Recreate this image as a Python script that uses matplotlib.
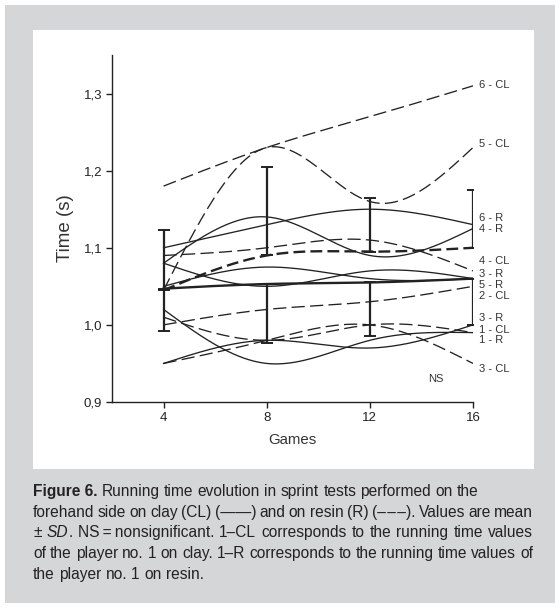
import numpy as np
import matplotlib
matplotlib.use("Agg")
import matplotlib.pyplot as plt
from matplotlib.patches import Rectangle

plt.rcParams['font.family'] = ['Liberation Sans', 'DejaVu Sans']

# ---------------- data ----------------
games = [4, 8, 12, 16]

cl_1 = [1.01, 0.98, 1.00, 0.99]
cl_2 = [1.00, 1.02, 1.03, 1.05]
cl_3 = [0.95, 0.98, 1.00, 0.95]
cl_4 = [1.09, 1.10, 1.11, 1.07]
cl_5 = [1.045, 1.23, 1.16, 1.23]
cl_6 = [1.18, 1.23, 1.27, 1.31]

r_1 = [1.02, 0.95, 0.98, 0.99]
r_2 = [0.95, 0.98, 0.97, 1.00]
r_3 = [1.05, 1.075, 1.06, 1.06]
r_4 = [1.08, 1.14, 1.09, 1.125]
r_5 = [1.08, 1.05, 1.07, 1.06]
r_6 = [1.10, 1.13, 1.15, 1.13]

cl_mean = [1.045, 1.09, 1.095, 1.10]
cl_sd = [0.078, 0.115, 0.070, 0.075]
r_mean = [1.047, 1.053, 1.055, 1.06]
r_sd = [0.055, 0.076, 0.070, 0.060]

right_labels = ['6 - CL', '5 - CL', '6 - R', '4 - R', '4 - CL', '3 - R',
                '5 - R', '2 - CL', '3 - R', '1 - CL', '1 - R', '3 - CL']
right_label_y = [1.311, 1.235, 1.139, 1.125, 1.083, 1.066,
                 1.052, 1.038, 1.009, 0.994, 0.980, 0.943]

yticks = [0.9, 1.0, 1.1, 1.2, 1.3]
ytick_labels = ['0,9', '1,0', '1,1', '1,2', '1,3']
xticks = [4, 8, 12, 16]

caption_lines = [
    [("Figure 6.", 'bold'), ("Running", 'n'), ("time", 'n'), ("evolution", 'n'), ("in", 'n'),
     ("sprint", 'n'), ("tests", 'n'), ("performed", 'n'), ("on", 'n'), ("the", 'n')],
    [("forehand", 'n'), ("side", 'n'), ("on", 'n'), ("clay", 'n'), ("(CL)", 'n'), ("(\u2014\u2014)", 'n'),
     ("and", 'n'), ("on", 'n'), ("resin", 'n'), ("(R)", 'n'), ("(\u2013\u200a\u2013\u200a\u2013).", 'n'),
     ("Values", 'n'), ("are", 'n'), ("mean", 'n')],
    [("\u00b1", 'n'), ("SD", 'it'), (".", 'glue'), ("NS\u2009=\u2009nonsignificant.", 'n'), ("1\u2013CL", 'n'),
     ("corresponds", 'n'), ("to", 'n'), ("the", 'n'), ("running", 'n'), ("time", 'n'), ("values", 'n')],
    [("of", 'n'), ("the", 'n'), ("player", 'n'), ("no.", 'n'), ("1", 'n'), ("on", 'n'), ("clay.", 'n'),
     ("1\u2013R", 'n'), ("corresponds", 'n'), ("to", 'n'), ("the", 'n'), ("running", 'n'), ("time", 'n'),
     ("values", 'n'), ("of", 'n')],
    [("the", 'n'), ("player", 'n'), ("no.", 'n'), ("1", 'n'), ("on", 'n'), ("resin.", 'n')],
]
caption_justify = [False, True, True, True, False]


def natural_spline(x, y, xs):
    x = np.asarray(x, float); y = np.asarray(y, float)
    n = len(x)
    h = np.diff(x)
    A = np.zeros((n, n)); b = np.zeros(n)
    A[0, 0] = 1; A[-1, -1] = 1
    for i in range(1, n - 1):
        A[i, i - 1] = h[i - 1]
        A[i, i] = 2 * (h[i - 1] + h[i])
        A[i, i + 1] = h[i]
        b[i] = 6 * ((y[i + 1] - y[i]) / h[i] - (y[i] - y[i - 1]) / h[i - 1])
    M = np.linalg.solve(A, b)
    out = np.empty_like(xs)
    for k, xv in enumerate(xs):
        i = min(max(np.searchsorted(x, xv) - 1, 0), n - 2)
        t1 = x[i + 1] - xv; t0 = xv - x[i]
        out[k] = (M[i] * t1 ** 3 + M[i + 1] * t0 ** 3) / (6 * h[i]) \
            + (y[i] / h[i] - M[i] * h[i] / 6) * t1 + (y[i + 1] / h[i] - M[i + 1] * h[i] / 6) * t0
    return out


W, H = 555, 608
fig = plt.figure(figsize=(W / 100, H / 100), dpi=100)
fig.patch.set_facecolor('white')

def px_rect(x0, y0, x1, y1, color):
    fig.patches.append(Rectangle((x0 / W, 1 - y1 / H), (x1 - x0) / W, (y1 - y0) / H,
                                 transform=fig.transFigure, facecolor=color, edgecolor='none', zorder=-10))

px_rect(5, 5, 555, 603, '#d5d6d8')
px_rect(33, 30, 534, 469, 'white')

ax_l, ax_r, ax_t, ax_b = 112, 473, 55, 402
ax = fig.add_axes([ax_l / W, 1 - ax_b / H, (ax_r - ax_l) / W, (ax_b - ax_t) / H])
ax.set_facecolor('none')
ax.set_xlim(2, 16)
ax.set_ylim(0.9, 1.35)
for s in ['top', 'right']:
    ax.spines[s].set_visible(False)
for s in ['left', 'bottom']:
    ax.spines[s].set_linewidth(1.0)
    ax.spines[s].set_color('#222222')

xs = np.linspace(4, 16, 300)
col = '#222222'
for series in [cl_1, cl_2, cl_3, cl_4, cl_5, cl_6]:
    ax.plot(xs, natural_spline(games, series, xs), color=col, lw=0.95, dashes=(10, 4))
for series in [r_1, r_2, r_3, r_4, r_5, r_6]:
    ax.plot(xs, natural_spline(games, series, xs), color=col, lw=0.95)
ax.plot(xs, natural_spline(games, cl_mean, xs), color=col, lw=1.7, dashes=(5, 2.2))
ax.plot(xs, natural_spline(games, r_mean, xs), color=col, lw=1.7)

ax.errorbar(games, cl_mean, yerr=[np.zeros(4), np.array(cl_sd)], fmt='none',
            ecolor=col, elinewidth=1.6, capsize=4.5, capthick=1.4)
ax.errorbar(games, r_mean, yerr=[np.array(r_sd), np.zeros(4)], fmt='none',
            ecolor=col, elinewidth=1.6, capsize=4.5, capthick=1.4)

for lab, yv in zip(right_labels, right_label_y):
    ax.text(16.23, yv, lab, fontsize=8, va='center', ha='left', color='#333333', clip_on=False)
ax.text(14.57, 0.930, 'NS', fontsize=8, ha='center', va='center', color='#333333')

ax.set_xticks(xticks)
ax.set_xticklabels([str(v) for v in xticks])
ax.set_yticks(yticks)
ax.set_yticklabels(ytick_labels)
ax.tick_params(axis='both', direction='out', length=4, width=1, labelsize=9.5,
               colors='#222222', pad=3)
ax.text(-0.130, 0.5, 'Time (s)', transform=ax.transAxes, rotation=90, fontsize=13.5,
        ha='center', va='center', color='#333333')
ax.text(0.5, -(440 - ax_b) / (ax_b - ax_t), 'Games', transform=ax.transAxes, fontsize=10.8,
        ha='center', va='center', color='#333333')

# ---------------- caption ----------------
fig.canvas.draw()
renderer = fig.canvas.get_renderer()
cap_fs = 11.2
cap_left, cap_right = 33, 533
line_y = [496, 517, 537, 558, 579]  # baselines (px from top)

def make_text(word, style):
    kw = dict(fontsize=cap_fs, color='#222222', va='baseline', ha='left')
    if style == 'bold':
        kw['fontweight'] = 'bold'
    if style == 'it':
        kw['fontstyle'] = 'italic'
    return fig.text(0, 0, word, **kw)

space_t = fig.text(0, 0, 'a a', fontsize=cap_fs)
aa = fig.text(0, 0, 'aa', fontsize=cap_fs)
sp_w = space_t.get_window_extent(renderer).width - aa.get_window_extent(renderer).width
space_t.remove(); aa.remove()

for words, just, yy in zip(caption_lines, caption_justify, line_y):
    texts = [make_text(w, s) for w, s in words]
    widths = [t.get_window_extent(renderer).width for t in texts]
    glue = [s == 'glue' for w, s in words]
    n_gaps = sum(1 for i in range(1, len(words)) if not glue[i])
    total = sum(widths)
    if just:
        gap = (cap_right - cap_left - total) / n_gaps
        gap = max(gap, 0.6 * sp_w)
    else:
        gap = sp_w
    x = cap_left
    for i, (t, wdt) in enumerate(zip(texts, widths)):
        if i > 0 and not glue[i]:
            x += gap
        t.set_position((x / W, 1 - yy / H))
        x += wdt

fig.savefig('out.png', dpi=100, facecolor=fig.get_facecolor())
